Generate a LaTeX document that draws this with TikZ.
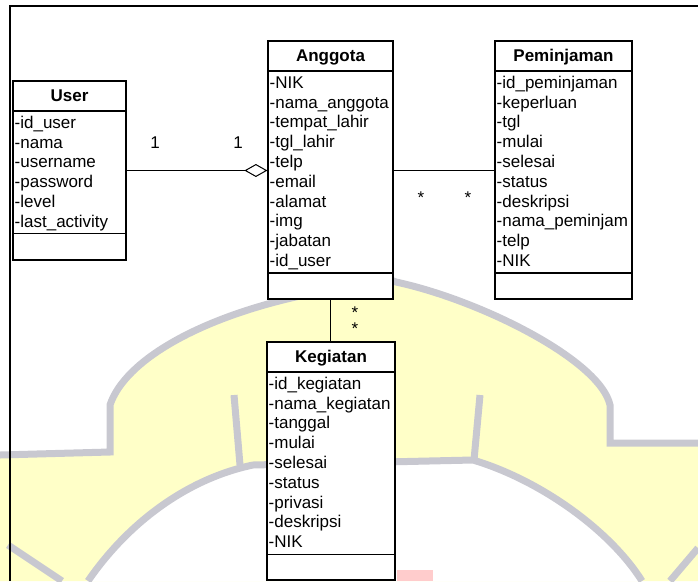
\documentclass[tikz,border=0pt]{standalone}
\usepackage{fontspec}
\setmainfont{Liberation Sans}
\usetikzlibrary{arrows.meta}

\definecolor{wmyellow}{HTML}{FFFFC8}
\definecolor{wmgray}{HTML}{C8C8D0}

\tikzset{
  classbox/.style={draw, line width=1.2pt, fill=white, inner sep=0pt},
  classline/.style={line width=1.2pt},
  classname/.style={anchor=base, inner sep=0pt, font=\fontsize{17}{20}\selectfont\bfseries},
  attr/.style={anchor=base west, inner sep=0pt, font=\fontsize{17}{20}\selectfont},
  mult/.style={anchor=base, inner sep=0pt, font=\fontsize{17}{20}\selectfont},
  assoc/.style={line width=1pt},
  wmline/.style={draw=wmgray, line width=7pt},
}

\begin{document}
\begin{tikzpicture}[x=1pt, y=-1pt]
    \useasboundingbox (0,0) rectangle (698,581);

    % watermark
    \path[fill=wmyellow] (0,455) -- (110,452) -- (110,405) .. controls (125,360) and (200,318) .. (300,296) -- (345,262) -- (396,282) .. controls (480,300) and (600,360) .. (610,405) -- (610,443) -- (698,443) -- (698,581) -- (0,581) -- cycle;
    \path[fill=white] (88,581) .. controls (130,520) and (190,478) .. (253,465) -- (473,460) .. controls (540,480) and (610,530) .. (642,581) -- cycle;
    \draw[wmline] (0,455) -- (110,452) -- (110,405) .. controls (125,360) and (200,318) .. (300,296) -- (345,262) -- (396,282) .. controls (480,300) and (600,360) .. (610,405) -- (610,443) -- (698,443);
    \draw[wmline] (88,581) .. controls (130,520) and (190,478) .. (253,465) -- (473,460) .. controls (540,480) and (610,530) .. (642,581);
    \draw[wmline] (234,395) -- (240,465);
    \draw[wmline] (480,395) -- (474,460);
    \draw[wmline] (8,545) -- (62,581);
    \draw[wmline] (698,548) -- (670,581);
    \fill[red!20] (397,570) rectangle (433,581);

    \draw[line width=2pt] (698,6) -- (10,6) -- (10,581);

    % User
    \node[classbox, minimum width=113pt, minimum height=179pt] (user) at (69.5,170.5) {};
    \draw[classline] (13,111) -- (126,111);
    \draw[classline] (13,233.7) -- (126,233.7);
    \node[classname] (user-name) at (69.5,101) {User};
    \foreach \a [count=\i from 0] in {id\_user, nama, username, password, level, last\_activity}
        \node[attr] (user-\i) at (14.5,128.3+19.8*\i) {-\a};

    % Anggota
    \node[classbox, minimum width=125pt, minimum height=258pt] (anggota) at (330.5,170) {};
    \draw[classline] (268,71) -- (393,71);
    \draw[classline] (268,272.9) -- (393,272.9);
    \node[classname] (anggota-name) at (330.5,61) {Anggota};
    \foreach \a [count=\i from 0] in {NIK, nama\_anggota, tempat\_lahir, tgl\_lahir, telp, email, alamat, img, jabatan, id\_user}
        \node[attr] (anggota-\i) at (269.5,88.3+19.8*\i) {-\a};

    % Peminjaman
    \node[classbox, minimum width=137pt, minimum height=258pt] (peminjaman) at (563.5,170) {};
    \draw[classline] (495,71) -- (632,71);
    \draw[classline] (495,272.9) -- (632,272.9);
    \node[classname] (peminjaman-name) at (563.5,61) {Peminjaman};
    \foreach \a [count=\i from 0] in {id\_peminjaman, keperluan, tgl, mulai, selesai, status, deskripsi, nama\_peminjam, telp, NIK}
        \node[attr] (peminjaman-\i) at (496.5,88.3+19.8*\i) {-\a};

    % Kegiatan
    \node[classbox, minimum width=128pt, minimum height=238pt] (kegiatan) at (331,461) {};
    \draw[classline] (267,372) -- (395,372);
    \draw[classline] (267,554.1) -- (395,554.1);
    \node[classname] (kegiatan-name) at (331,362) {Kegiatan};
    \foreach \a [count=\i from 0] in {id\_kegiatan, nama\_kegiatan, tanggal, mulai, selesai, status, privasi, deskripsi, NIK}
        \node[attr] (kegiatan-\i) at (268.5,389.3+19.8*\i) {-\a};

    % relasi
    \draw[assoc, -{Diamond[open, length=23pt, width=13pt]}] (user.east) -- (user.east -| anggota.west);
    \draw[assoc] (anggota.east) -- (anggota.east -| peminjaman.west);
    \draw[assoc] (anggota.south) -- (anggota.south |- kegiatan.north);

    \node[mult] (m-user) at (155,148) {1};
    \node[mult] (m-anggota) at (238,148) {1};
    \node[mult] (m-ang-pem) at (421,203) {*};
    \node[mult] (m-pem) at (468,203) {*};
    \node[mult] (m-ang-keg) at (355,318) {*};
    \node[mult] (m-keg) at (355,334.6) {*};
\end{tikzpicture}
\end{document}
